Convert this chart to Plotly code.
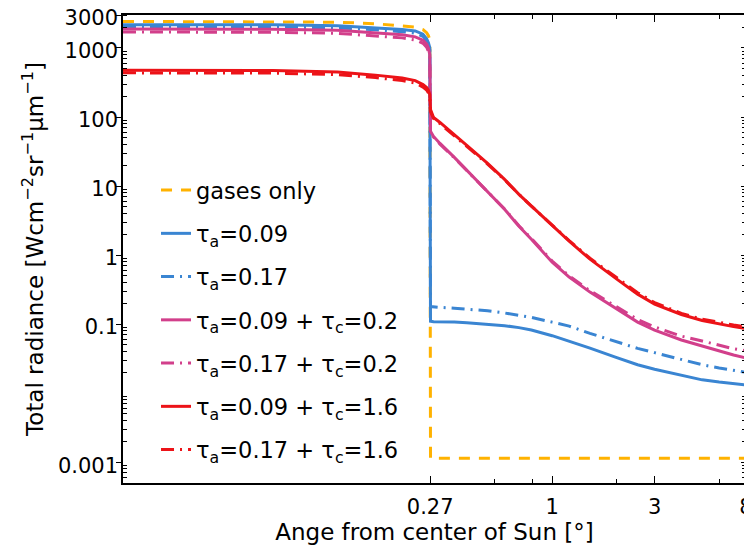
import plotly.graph_objects as go

# angles inside the solar disk [deg]
disk_x = [0.01, 0.05, 0.1, 0.15, 0.2, 0.23, 0.25, 0.26, 0.265, 0.269]
# angles outside the solar disk [deg]
outer_x = [0.271, 0.28, 0.3, 0.35, 0.4, 0.5, 0.6, 0.7, 0.8, 1, 1.2, 1.5, 2,
           2.5, 3, 4, 5, 6, 7, 8]

gases_disk = [2423, 2420, 2360, 2245, 2099, 1998, 1838, 1663, 1506, 1318]
gases_out = [0.00114, 0.00114, 0.00114, 0.00114, 0.00114, 0.00114, 0.00114,
             0.00114, 0.00114, 0.00114, 0.00114, 0.00114, 0.00114, 0.00114,
             0.00114, 0.00114, 0.00114, 0.00114, 0.00114, 0.00114]

a09_disk = [2173, 2170, 2099, 1977, 1850, 1766, 1581, 1361, 1193, 1010]
a09_out = [0.11, 0.108, 0.108, 0.107, 0.105, 0.100, 0.095, 0.089, 0.082,
           0.068, 0.057, 0.0450, 0.0328, 0.0258, 0.0222, 0.0180, 0.0156,
           0.0145, 0.0137, 0.0132]

a17_disk = [2020, 2018, 1950, 1840, 1720, 1640, 1470, 1265, 1110, 940]
a17_out = [0.18, 0.177, 0.175, 0.170, 0.165, 0.156, 0.145, 0.135, 0.125,
           0.107, 0.0936, 0.0735, 0.0550, 0.0445, 0.0386, 0.0310, 0.0258,
           0.0232, 0.0214, 0.0201]

a09c02_disk = [1884, 1871, 1808, 1676, 1557, 1447, 1296, 1135, 993, 800]
a09c02_out = [62, 52.3, 41.4, 26.0, 16.9, 8.38, 4.61, 2.62, 1.70, 0.789,
              0.480, 0.291, 0.165, 0.107, 0.082, 0.0589, 0.0483, 0.0408,
              0.0357, 0.0324]

a17c02_disk = [1700, 1690, 1630, 1510, 1400, 1305, 1170, 1025, 895, 720]
a17c02_out = [62, 51, 40.5, 25.6, 16.8, 8.4, 4.65, 2.66, 1.74, 0.82, 0.50,
              0.305, 0.176, 0.117, 0.091, 0.067, 0.057, 0.049, 0.044, 0.041]

a09c16_disk = [474, 470, 447, 404, 366, 337, 295, 267, 242, 211]
a09c16_out = [128, 98.4, 83.3, 55.9, 38.7, 21.3, 12.5, 7.59, 5.09, 2.70,
              1.59, 0.873, 0.449, 0.272, 0.195, 0.138, 0.113, 0.100, 0.092,
              0.086]

a17c16_disk = [436, 432, 411, 372, 337, 310, 271, 246, 223, 194]
a17c16_out = [120, 95, 80, 54, 37.5, 20.8, 12.3, 7.6, 5.1, 2.72, 1.62, 0.90,
              0.465, 0.285, 0.205, 0.143, 0.118, 0.105, 0.097, 0.091]

names = ["gases only",
         "τ<sub>a</sub>=0.09",
         "τ<sub>a</sub>=0.17",
         "τ<sub>a</sub>=0.09 + τ<sub>c</sub>=0.2",
         "τ<sub>a</sub>=0.17 + τ<sub>c</sub>=0.2",
         "τ<sub>a</sub>=0.09 + τ<sub>c</sub>=1.6",
         "τ<sub>a</sub>=0.17 + τ<sub>c</sub>=1.6"]

x_ticks = [0.27, 1, 3, 8]
x_ticktext = ["0.27", "1", "3", "8"]
x_minor = [0.54, 0.81, 2, 6]
y_ticks = [0.001, 0.1, 1, 10, 100, 1000, 3000]
y_ticktext = ["0.001", "0.1", "1", "10", "100", "1000", "3000"]
y_minor = [m * d for d in [0.0001, 0.001, 0.01, 0.1, 1, 10, 100, 1000]
           for m in [2, 3, 4, 5, 6, 7, 8, 9]]
y_minor = [v for v in y_minor if 0.0005 <= v <= 3000]

ORANGE = "#FFB200"
BLUE = "#3A85D2"
MAGENTA = "#D23F8B"
RED = "#EC1318"
DASH = "11px,9px"
DASHDOT = "13px,6px,2px,6px"

series = [
    (gases_disk, gases_out, ORANGE, DASH),
    (a09_disk, a09_out, BLUE, "solid"),
    (a17_disk, a17_out, BLUE, DASHDOT),
    (a09c02_disk, a09c02_out, MAGENTA, "solid"),
    (a17c02_disk, a17c02_out, MAGENTA, DASHDOT),
    (a09c16_disk, a09c16_out, RED, "solid"),
    (a17c16_disk, a17c16_out, RED, DASHDOT),
]

FONT = "DejaVu Sans, Liberation Sans, Arial, sans-serif"

fig = go.Figure()
for i, (yd, yo, col, dash) in enumerate(series):
    fig.add_trace(go.Scatter(
        x=disk_x + outer_x, y=yd + yo, mode="lines", name=names[i],
        legendgroup=f"g{i}",
        line=dict(color=col, width=3, dash=dash)))

# empty trace to carry the right-hand tick axis
fig.add_trace(go.Scatter(x=[], y=[], yaxis="y2", showlegend=False,
                         hoverinfo="skip"))

# the page body has an 8px margin, so the figure is 8px smaller and the
# margins are reduced by the same amount on the left/top
fig.update_layout(
    template="none",
    width=744, height=542,
    margin=dict(l=115, r=6, t=7, b=67),
    paper_bgcolor="white", plot_bgcolor="white",
    font=dict(family=FONT, size=22, color="black"),
    showlegend=True,
    legend=dict(x=0.053, y=0.671, xanchor="left", yanchor="top",
                bgcolor="rgba(0,0,0,0)", borderwidth=0,
                font=dict(size=22.5), tracegroupgap=11),
    xaxis=dict(type="log", range=[-2, 0.9032], automargin=False,
               tickmode="array", tickvals=x_ticks, ticktext=x_ticktext,
               ticks="inside", ticklen=7, tickwidth=1, tickcolor="black",
               ticklabelstandoff=4, ticklabeloverflow="allow",
               minor=dict(tickmode="array", tickvals=x_minor, ticks="inside",
                          ticklen=4, tickcolor="black", tickwidth=1,
                          showgrid=False),
               showline=True, linecolor="black", linewidth=1.5,
               mirror="ticks", showgrid=False, zeroline=False,
               title=dict(text="Ange from center of Sun [°]", standoff=2,
                          font=dict(size=23)),
               tickfont=dict(size=21)),
    yaxis=dict(type="log", range=[-3.301, 3.4773], automargin=False,
               tickmode="array", tickvals=y_ticks, ticktext=y_ticktext,
               ticks="outside", ticklen=5, tickwidth=1, tickcolor="black",
               ticklabelstandoff=-6, ticklabeloverflow="allow",
               ticklabelshift=3,
               minor=dict(tickmode="array", tickvals=y_minor, ticks="inside",
                          ticklen=4, tickcolor="black", tickwidth=1,
                          showgrid=False),
               showline=True, linecolor="black", linewidth=1.5,
               mirror=True, showgrid=False, zeroline=False,
               title=dict(text="Total radiance [Wcm<sup>−2</sup>sr<sup>−1</sup>μm<sup>−1</sup>]",
                          standoff=8, font=dict(size=23)),
               tickfont=dict(size=21)),
    yaxis2=dict(type="log", range=[-3.301, 3.4773], overlaying="y",
                side="right", anchor="x", automargin=False,
                tickmode="array", tickvals=y_ticks,
                showticklabels=False, ticks="inside", ticklen=5,
                tickwidth=1, tickcolor="black",
                minor=dict(tickmode="array", tickvals=y_minor,
                           ticks="inside", ticklen=4, tickcolor="black",
                           tickwidth=1, showgrid=False),
                showline=False, showgrid=False, zeroline=False),
)

fig.write_html("out.html")
